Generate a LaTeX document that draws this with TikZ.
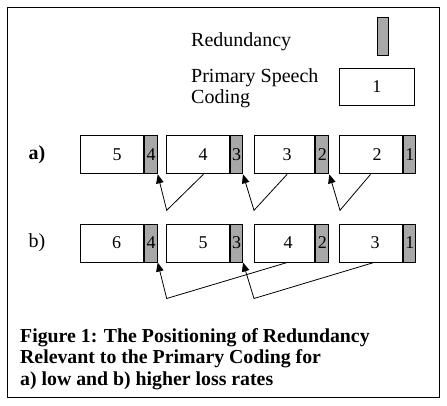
\documentclass[tikz,border=0pt]{standalone}
\usepackage{fontspec}
\setmainfont{Liberation Serif}
\usetikzlibrary{arrows.meta,calc}
\definecolor{redgray}{RGB}{168,168,168}
\begin{document}
\begin{tikzpicture}[x=1pt,y=-1pt,
  mainbox/.style={draw, line width=1pt, fill=white, minimum height=38pt, inner sep=0pt, anchor=north west},
  redbox/.style={draw, line width=1pt, fill=redgray, minimum height=38pt, inner sep=0pt, anchor=north west, font=\fontsize{18}{18}\selectfont},
  num/.style={font=\fontsize{18}{18}\selectfont, inner sep=0pt},
  legend/.style={font=\fontsize{20}{21}\selectfont, inner sep=0pt},
  arr/.style={line width=0.8pt, -{Triangle[length=9pt,width=7.5pt]}},
]
\useasboundingbox (0,0) rectangle (447,405);
\node[draw, line width=1.2pt, minimum width=432pt, minimum height=390pt, anchor=north west, inner sep=0pt] (frame) at (7,7) {};

% legend
\node[legend, anchor=base west] (lred) at (191,46.7) {Redundancy};
\node[draw, fill=redgray, line width=1pt, minimum width=11.4pt, minimum height=37.7pt, inner sep=0pt] (kred) at (383,36.2) {};
\node[legend, anchor=north west, align=left] (lprim) at (191,68.8) {Primary Speech\\Coding};
\node[draw, line width=1pt, minimum width=75pt, minimum height=37pt, inner sep=0pt, font=\fontsize{18}{18}\selectfont] (kprim) at (376.8,86.8) {1};

% row labels
\node[legend, font=\fontsize{20}{21}\selectfont\bfseries] (la) at (37,155) {a)};
\node[legend] (lb) at (37,243) {b)};

% row a
\foreach \i/\xa/\xg/\xb/\xn/\ta/\tb in {1/80/143.3/155.7/117/5/4, 2/166/229.3/241/203/4/3, 3/254/314.3/327.3/287/3/2, 4/339/402.3/414.3/377/2/1} {
  \node[mainbox, minimum width={(\xg-\xa)*1pt}] (ma\i) at (\xa,135.3) {};
  \node[redbox, minimum width={(\xb-\xg)*1pt}] (ra\i) at (ma\i.north east) {\tb};
  \node[num] (na\i) at (\xn,154.3) {\ta};
}
% row b
\foreach \i/\xa/\xg/\xb/\xn/\ta/\tb in {1/80/143.3/155.7/116.7/6/4, 2/166/229.3/241/203/5/3, 3/254/314.3/327.3/288/4/2, 4/339/402.3/414.3/375/3/1} {
  \node[mainbox, minimum width={(\xg-\xa)*1pt}] (mb\i) at (\xa,223.5) {};
  \node[redbox, minimum width={(\xb-\xg)*1pt}] (rb\i) at (mb\i.north east) {\tb};
  \node[num] (nb\i) at (\xn,242.5) {\ta};
}

% connectors row a
\coordinate (ba1) at ($(ma2.south west)+(0.7,36)$);
\coordinate (ba2) at ($(ma3.south west)+(0,36)$);
\coordinate (ba3) at ($(ma4.south west)+(1,36)$);
\draw[arr] ($(ma2.south)+(5.3,0)$) -- (ba1) -- (ra1.south east);
\draw[arr] ($(ma3.south)+(2.5,0)$) -- (ba2) -- (ra2.south east);
\draw[arr] ($(ma4.south)+(-0.6,0)$) -- (ba3) -- (ra3.south east);

% connectors row b
\coordinate (bb1) at ($(mb2.south west)+(0.7,36)$);
\coordinate (bb2) at ($(mb3.south west)+(0,36)$);
\draw[arr] ($(mb3.south)+(2.5,0)$) -- (bb1) -- (rb1.south east);
\draw[arr] ($(mb4.south)+(2.7,0)$) -- (bb2) -- (rb2.south east);

% caption
\node[anchor=north west, align=left, inner sep=0pt, font=\fontsize{19.8}{21.7}\selectfont\bfseries] (cap) at (20,327.9) {Figure 1: The Positioning of Redundancy\\Relevant to the Primary Coding for\\a) low and b) higher loss rates};
\end{tikzpicture}
\end{document}
